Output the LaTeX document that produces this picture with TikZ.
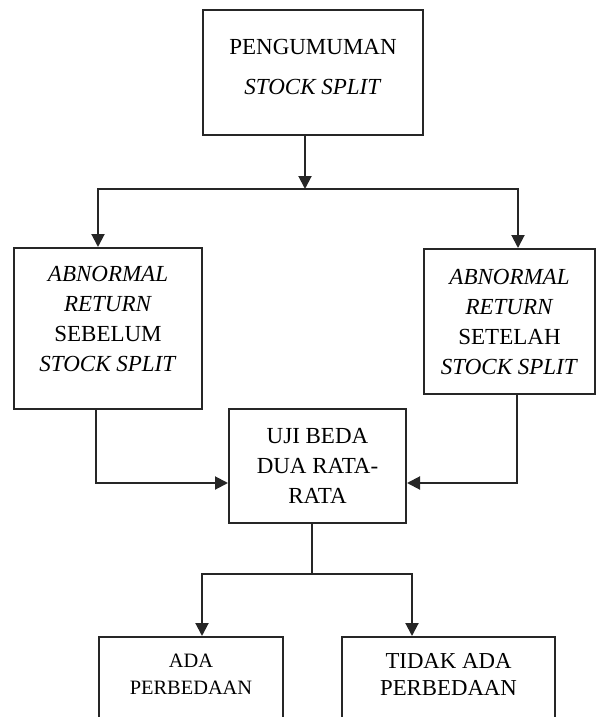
\documentclass[tikz,border=0pt]{standalone}
\usepackage{fontspec}
\setmainfont{Liberation Serif}
\usetikzlibrary{arrows.meta}

\begin{document}
\begin{tikzpicture}[x=0.5pt,y=-0.5pt,
        box/.style={draw=black!85,line width=1pt,align=center,inner sep=0pt,
            font=\fontsize{11.5pt}{15pt}\selectfont},
        arr/.style={draw=black!85,line width=1pt,-{Triangle[width=6.5pt,length=6.5pt]}},
        link/.style={draw=black!85,line width=1pt}]
        \clip (0,0) rectangle (599,717);

        \node[box,minimum width=110pt,minimum height=62.5pt] (pengumuman) at (313,72.5)
            {PENGUMUMAN\\[5pt]\textit{STOCK SPLIT}\\[-9pt]};
        \node[box,minimum width=94pt,minimum height=80.5pt] (sebelum) at (108,328.5)
            {\textit{ABNORMAL}\\\textit{RETURN}\\SEBELUM\\\textit{STOCK SPLIT}\\[-5pt]};
        \node[box,minimum width=85.5pt,minimum height=72.5pt] (setelah) at (509.5,321.5)
            {\textit{ABNORMAL}\\\textit{RETURN}\\SETELAH\\\textit{STOCK SPLIT}};
        \node[box,minimum width=88.5pt,minimum height=57pt] (uji) at (317.5,466)
            {UJI BEDA\\DUA RATA-\\RATA};
        \node[box,minimum width=92pt,minimum height=54pt,font=\fontsize{10.2pt}{13.5pt}\selectfont] (ada) at (191,691)
            {ADA\\PERBEDAAN\\[3.5pt]};
        \node[box,minimum width=106.5pt,minimum height=54pt,font=\fontsize{11.4pt}{13.5pt}\selectfont] (tidak) at (448.5,691)
            {TIDAK ADA\\PERBEDAAN\\[3.5pt]};

        \draw[arr] ([xshift=-4pt]pengumuman.south) -- ++(0,53) coordinate (split);
        \draw[arr] (split) -| ([xshift=-5pt]sebelum.north);
        \draw[arr] (split) -| ([xshift=4.25pt]setelah.north);

        \draw[arr] ([xshift=-6pt]sebelum.south) |- ([yshift=-8.5pt]uji.west);
        \draw[arr] ([xshift=3.75pt]setelah.south) |- ([yshift=-8.5pt]uji.east);

        \draw[link] ([xshift=-2.75pt]uji.south) -- ++(0,50) coordinate (fork);
        \draw[arr] (fork) -| ([xshift=5.5pt]ada.north);
        \draw[arr] (fork) -| ([xshift=-18.25pt]tidak.north);
    \end{tikzpicture}
\end{document}
